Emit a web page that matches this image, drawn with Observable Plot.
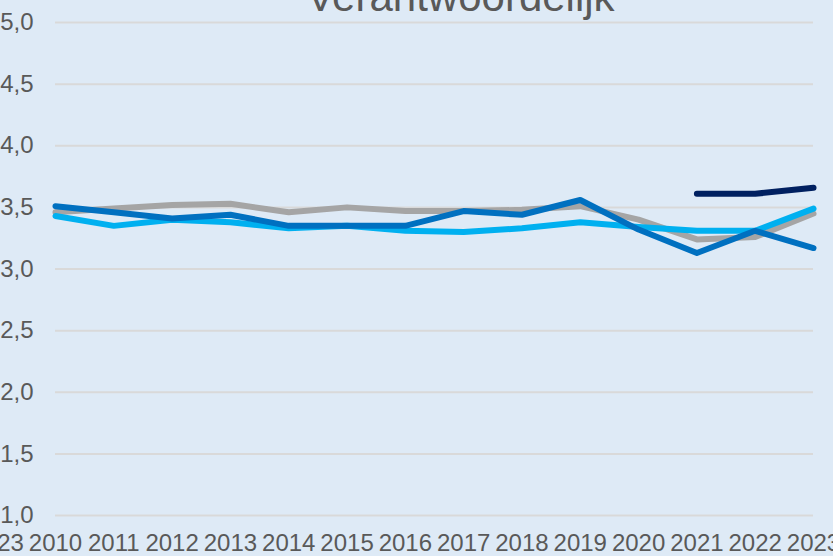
<!DOCTYPE html>
<html>
<head>
<meta charset="utf-8">
<script src="https://cdn.jsdelivr.net/npm/d3@7"></script>
<script src="https://cdn.jsdelivr.net/npm/@observablehq/plot@0.6"></script>
<style>
  html, body { margin: 0; padding: 0; background: #deeaf6; overflow: hidden; }
  #chart svg { display: block; }
</style>
</head>
<body>
<div id="chart"></div>
<script>
const title = "Verantwoordelijk";
const years = [2010, 2011, 2012, 2013, 2014, 2015, 2016, 2017, 2018, 2019, 2020, 2021, 2022, 2023];
const yTicks = [1.0, 1.5, 2.0, 2.5, 3.0, 3.5, 4.0, 4.5, 5.0];
const leftClippedLabel = "2023"; // partly visible label from neighbouring chart

const seriesGrey      = [3.46, 3.49, 3.52, 3.53, 3.46, 3.50, 3.47, 3.47, 3.48, 3.51, 3.40, 3.24, 3.26, 3.45];
const seriesLightBlue = [3.43, 3.35, 3.40, 3.38, 3.33, 3.35, 3.31, 3.30, 3.33, 3.38, 3.34, 3.31, 3.31, 3.49];
const seriesBlue      = [3.51, 3.46, 3.41, 3.44, 3.35, 3.35, 3.35, 3.47, 3.44, 3.56, 3.32, 3.13, 3.31, 3.17];
const navyYears       = [2021, 2022, 2023];
const seriesNavy      = [3.61, 3.61, 3.66];

const toRows = (xs, ys) => xs.map((x, i) => ({year: x, value: ys[i]}));
const fontFamily = "'Liberation Sans Narrow', 'Arial Narrow', 'Liberation Sans', sans-serif";
const textColor = "#595959";
const lineOpts = {x: "year", y: "value", strokeWidth: 6, strokeLinecap: "round", strokeLinejoin: "round"};

const chart = Plot.plot({
  width: 833,
  height: 556,
  marginLeft: 55,
  marginRight: 20,
  marginTop: 22,
  marginBottom: 41,
  style: {background: "#deeaf6", fontFamily, color: textColor, overflow: "hidden"},
  x: {domain: [years[0], years[years.length - 1]]},
  y: {domain: [1, 5]},
  marks: [
    Plot.ruleY(yTicks, {x1: years[0], x2: years[years.length - 1], stroke: "#d9d9d9", strokeWidth: 2}),
    Plot.axisY(yTicks, {tickSize: 0, tickPadding: 22, fontSize: 24, fill: textColor,
      tickFormat: d => d.toFixed(1).replace(".", ","), label: null}),
    Plot.axisX(years, {tickSize: 0, tickPadding: 18, fontSize: 24, fill: textColor,
      tickFormat: d => String(d), label: null}),
    Plot.text([leftClippedLabel], {x: years[0] - 1, y: 1, dy: 18, lineAnchor: "top",
      fontSize: 24, fill: textColor}),
    Plot.line(toRows(years, seriesGrey), {...lineOpts, stroke: "#a5a5a5"}),
    Plot.line(toRows(years, seriesLightBlue), {...lineOpts, stroke: "#00b0f0"}),
    Plot.line(toRows(years, seriesBlue), {...lineOpts, stroke: "#0070c0"}),
    Plot.line(toRows(navyYears, seriesNavy), {...lineOpts, stroke: "#002060"}),
    Plot.text([title], {frameAnchor: "top", dx: 26, dy: -12, lineAnchor: "bottom",
      fontSize: 42, fill: textColor})
  ]
});
document.getElementById("chart").append(chart);
</script>
</body>
</html>
